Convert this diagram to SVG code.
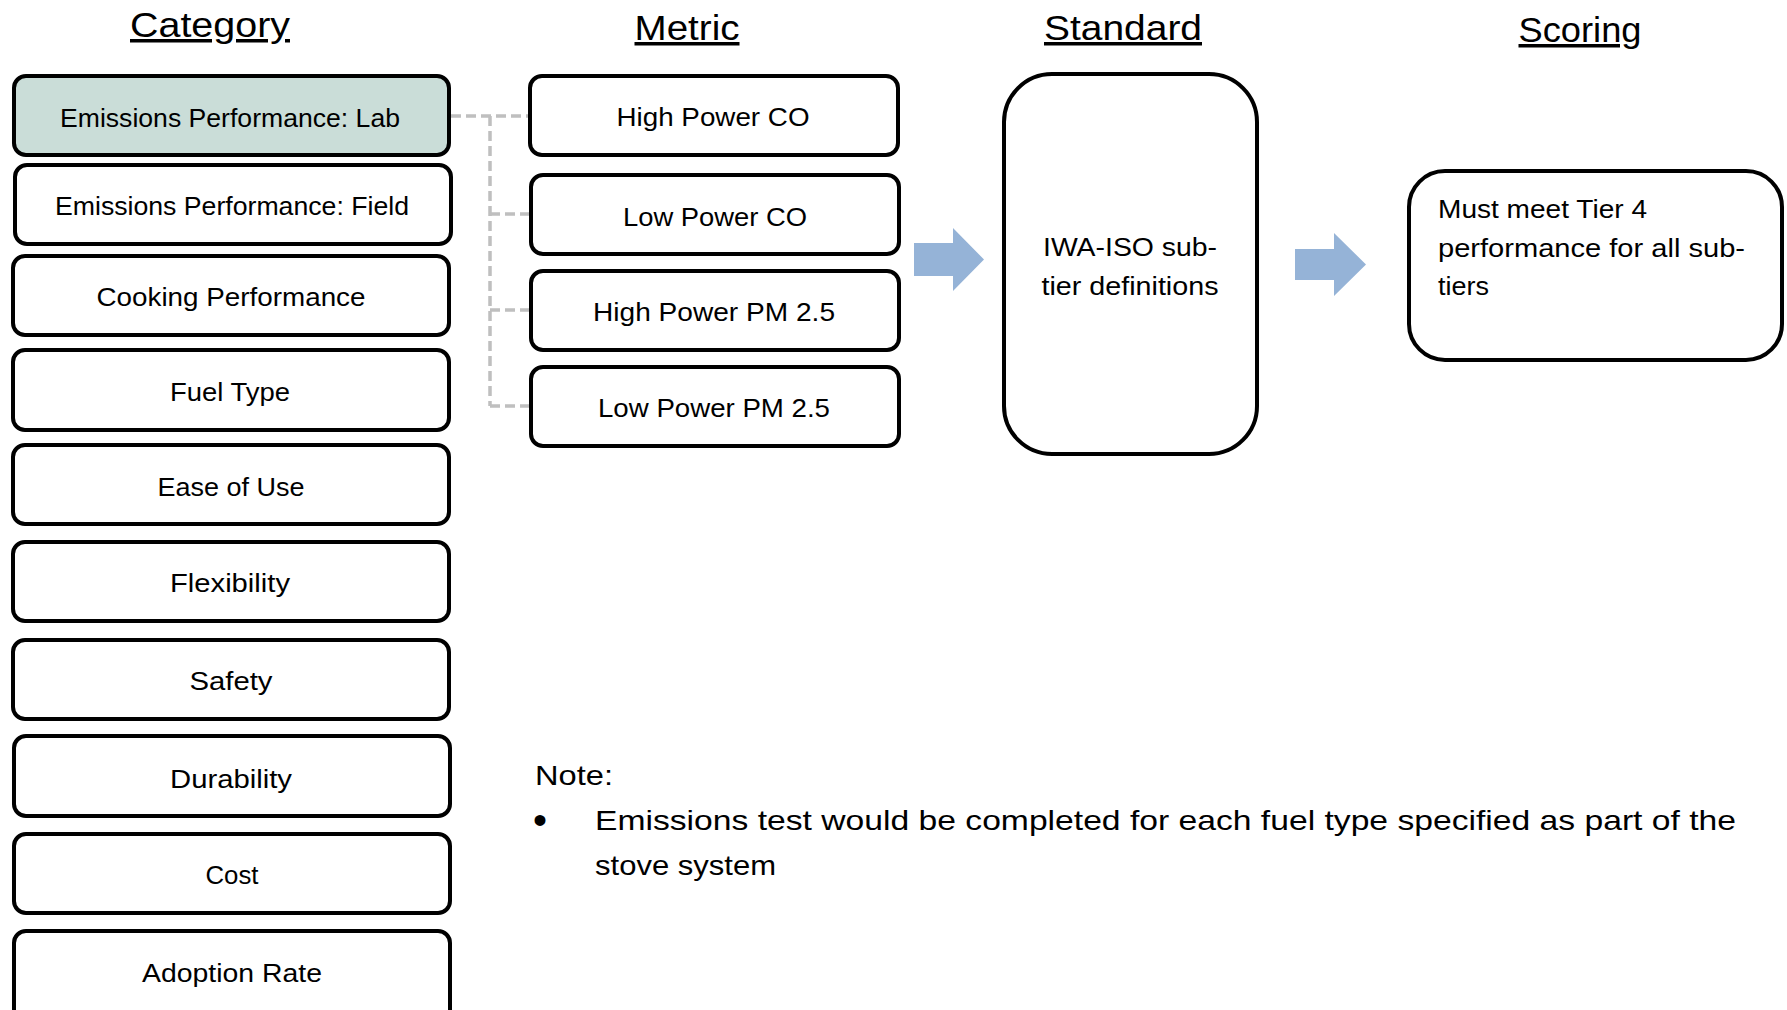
<svg xmlns="http://www.w3.org/2000/svg" width="1787" height="1010" viewBox="0 0 1787 1010">
  <style>
    text { font-family: "Liberation Sans", Arial, sans-serif; fill: #000; }
    .title { font-size: 35px; text-decoration: underline; text-anchor: middle; }
    .box { fill: #fff; stroke: #000; stroke-width: 4; }
    .hl { fill: #CADDD8; }
    .lbl { font-size: 26px; text-anchor: middle; }
    .lblL { font-size: 26px; }
    .note { font-size: 28px; }
    .dash { fill: none; stroke: #BFBFBF; stroke-width: 3.5; stroke-dasharray: 10 5; }
    .arrow { fill: #95B3D7; }
  </style>

  <!-- column headings -->
  <g id="headings">
    <text class="title" x="210" y="37" textLength="160" lengthAdjust="spacingAndGlyphs">Category</text>
    <text class="title" x="687" y="40" textLength="105" lengthAdjust="spacingAndGlyphs">Metric</text>
    <text class="title" x="1123" y="40" textLength="158" lengthAdjust="spacingAndGlyphs">Standard</text>
    <text class="title" x="1580" y="42" textLength="123" lengthAdjust="spacingAndGlyphs">Scoring</text>
  </g>

  <!-- category column -->
  <g id="cat-lab">
    <rect class="box hl" x="14" y="76" width="435" height="79" rx="12"/>
    <text class="lbl" x="230" y="127" textLength="340" lengthAdjust="spacingAndGlyphs">Emissions Performance: Lab</text>
  </g>
  <g id="cat-field">
    <rect class="box" x="15" y="165" width="436" height="79" rx="12"/>
    <text class="lbl" x="232" y="215" textLength="354" lengthAdjust="spacingAndGlyphs">Emissions Performance: Field</text>
  </g>
  <g id="cat-cooking">
    <rect class="box" x="13" y="256" width="436" height="79" rx="12"/>
    <text class="lbl" x="231" y="306" textLength="269" lengthAdjust="spacingAndGlyphs">Cooking Performance</text>
  </g>
  <g id="cat-fuel">
    <rect class="box" x="13" y="350" width="436" height="80" rx="12"/>
    <text class="lbl" x="230" y="401" textLength="120" lengthAdjust="spacingAndGlyphs">Fuel Type</text>
  </g>
  <g id="cat-ease">
    <rect class="box" x="13" y="445" width="436" height="79" rx="12"/>
    <text class="lbl" x="231" y="496" textLength="147" lengthAdjust="spacingAndGlyphs">Ease of Use</text>
  </g>
  <g id="cat-flex">
    <rect class="box" x="13" y="542" width="436" height="79" rx="12"/>
    <text class="lbl" x="230" y="592" textLength="120" lengthAdjust="spacingAndGlyphs">Flexibility</text>
  </g>
  <g id="cat-safety">
    <rect class="box" x="13" y="640" width="436" height="79" rx="12"/>
    <text class="lbl" x="231" y="690" textLength="83" lengthAdjust="spacingAndGlyphs">Safety</text>
  </g>
  <g id="cat-durability">
    <rect class="box" x="14" y="736" width="436" height="80" rx="12"/>
    <text class="lbl" x="231" y="788" textLength="122" lengthAdjust="spacingAndGlyphs">Durability</text>
  </g>
  <g id="cat-cost">
    <rect class="box" x="14" y="834" width="436" height="79" rx="12"/>
    <text class="lbl" x="232" y="884" textLength="53" lengthAdjust="spacingAndGlyphs">Cost</text>
  </g>
  <g id="cat-adoption">
    <rect class="box" x="14" y="931" width="436" height="90" rx="12"/>
    <text class="lbl" x="232" y="982" textLength="180" lengthAdjust="spacingAndGlyphs">Adoption Rate</text>
  </g>

  <!-- metric column -->
  <g id="metric-hp-co">
    <rect class="box" x="530" y="76" width="368" height="79" rx="12"/>
    <text class="lbl" x="713" y="126" textLength="193" lengthAdjust="spacingAndGlyphs">High Power CO</text>
  </g>
  <g id="metric-lp-co">
    <rect class="box" x="531" y="175" width="368" height="79" rx="12"/>
    <text class="lbl" x="715" y="226" textLength="184" lengthAdjust="spacingAndGlyphs">Low Power CO</text>
  </g>
  <g id="metric-hp-pm">
    <rect class="box" x="531" y="271" width="368" height="79" rx="12"/>
    <text class="lbl" x="714" y="321" textLength="242" lengthAdjust="spacingAndGlyphs">High Power PM 2.5</text>
  </g>
  <g id="metric-lp-pm">
    <rect class="box" x="531" y="367" width="368" height="79" rx="12"/>
    <text class="lbl" x="714" y="417" textLength="232" lengthAdjust="spacingAndGlyphs">Low Power PM 2.5</text>
  </g>

  <!-- standard -->
  <g id="standard">
    <rect class="box" x="1004" y="74" width="253" height="380" rx="48"/>
    <text class="lbl" x="1130" y="256" textLength="174" lengthAdjust="spacingAndGlyphs">IWA-ISO sub-</text>
    <text class="lbl" x="1130" y="295" textLength="177" lengthAdjust="spacingAndGlyphs">tier definitions</text>
  </g>

  <!-- scoring -->
  <g id="scoring">
    <rect class="box" x="1409" y="171" width="373" height="189" rx="36"/>
    <text class="lblL" x="1438" y="218" textLength="209" lengthAdjust="spacingAndGlyphs">Must meet Tier 4</text>
    <text class="lblL" x="1438" y="257" textLength="307" lengthAdjust="spacingAndGlyphs">performance for all sub-</text>
    <text class="lblL" x="1438" y="295" textLength="51" lengthAdjust="spacingAndGlyphs">tiers</text>
  </g>

  <!-- connectors -->
  <g id="connectors">
    <path class="dash" d="M451 116 H528 M490 116 V406 M490 214 H529 M490 310 H529 M490 406 H529"/>
    <polygon class="arrow" points="914,243 953,243 953,228 984,259.5 953,291 953,276 914,276"/>
    <polygon class="arrow" points="1295,249 1334,249 1334,233 1366,264.5 1334,296 1334,280 1295,280"/>
  </g>

  <!-- note -->
  <g id="note">
    <text class="note" x="535" y="785" textLength="78" lengthAdjust="spacingAndGlyphs">Note:</text>
    <text class="note" x="540" y="834" text-anchor="middle" style="font-size:40px">•</text>
    <text class="note" x="595" y="830" textLength="1141" lengthAdjust="spacingAndGlyphs">Emissions test would be completed for each fuel type specified as part of the</text>
    <text class="note" x="595" y="875" textLength="181" lengthAdjust="spacingAndGlyphs">stove system</text>
  </g>
</svg>
